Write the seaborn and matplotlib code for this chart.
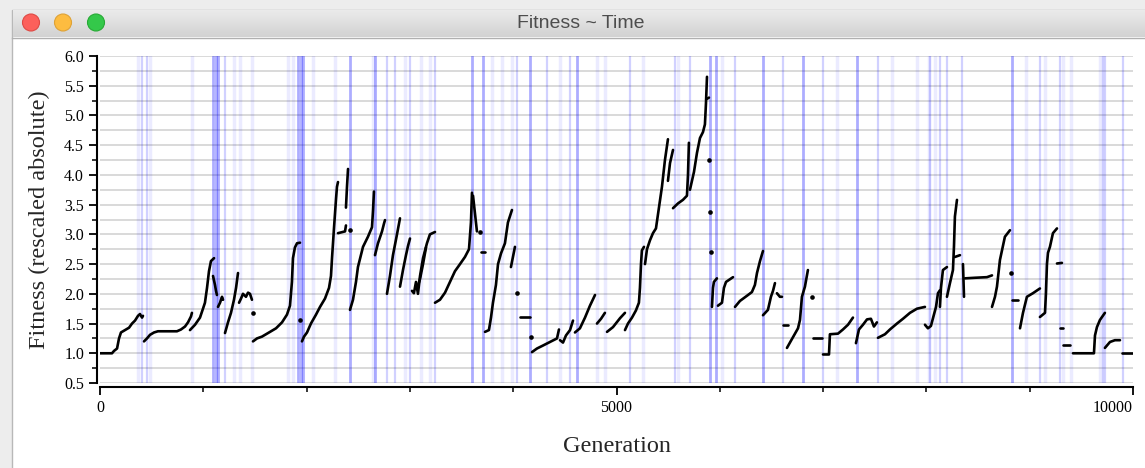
import numpy as np
import pandas as pd
import matplotlib
matplotlib.use('Agg')
import matplotlib.pyplot as plt
from matplotlib.patches import Rectangle, Circle
from matplotlib.ticker import MultipleLocator, FormatStrFormatter
import seaborn as sns

# fitness trace, one list per contiguous run of generations
segments = [
    [(0, 1.0), (116, 1.0), (136, 1.04), (165, 1.08), (184, 1.25), (203, 1.35), (242, 1.39), (281, 1.43),
     (310, 1.5), (339, 1.55), (368, 1.63), (387, 1.66), (407, 1.6), (416, 1.63)],
    [(426, 1.2), (455, 1.25), (484, 1.31), (523, 1.35), (561, 1.37), (745, 1.37), (784, 1.40), (823, 1.45),
     (852, 1.52), (881, 1.62), (890, 1.68)],
    [(871, 1.39), (920, 1.48), (968, 1.6), (997, 1.75), (1016, 1.85), (1036, 2.1), (1055, 2.38), (1074, 2.55), (1104, 2.6)],
    [(1094, 2.3), (1113, 2.15), (1123, 2.05), (1132, 1.98)],
    [(1142, 1.78), (1162, 1.85), (1181, 1.95), (1191, 1.9)],
    [(1210, 1.34), (1239, 1.52), (1268, 1.68), (1297, 1.9), (1317, 2.1), (1336, 2.35)],
    [(1346, 1.85), (1365, 1.92), (1384, 2.0), (1413, 1.95), (1433, 2.02), (1452, 2.0), (1471, 1.9)],
    [(1481, 1.2), (1520, 1.25), (1568, 1.28), (1646, 1.36), (1704, 1.42), (1762, 1.52), (1810, 1.65), (1839, 1.8),
     (1858, 2.2), (1868, 2.6), (1887, 2.78), (1907, 2.85), (1936, 2.86)],
    [(1955, 1.2), (1975, 1.28), (2004, 1.35), (2042, 1.5), (2091, 1.65), (2130, 1.78), (2178, 1.92), (2217, 2.1),
     (2236, 2.3), (2246, 2.6), (2265, 3.1), (2285, 3.6), (2294, 3.8), (2304, 3.88)],
    [(2304, 3.02), (2372, 3.05), (2381, 3.15)],
    [(2381, 3.45), (2391, 3.8), (2401, 4.1)],
    [(2420, 1.73), (2449, 1.9), (2478, 2.2), (2497, 2.45), (2546, 2.79), (2594, 2.96), (2633, 3.12), (2643, 3.4), (2652, 3.72)],
    [(2662, 2.65), (2691, 2.85), (2730, 3.05), (2749, 3.18), (2759, 3.24)],
    [(2778, 2.0), (2807, 2.3), (2836, 2.65), (2875, 3.0), (2904, 3.27)],
    [(2904, 2.12), (2933, 2.4), (2962, 2.65), (2981, 2.8), (3001, 2.93)],
    [(3020, 2.05), (3039, 2.01), (3059, 2.2), (3078, 2.0), (3098, 2.3), (3127, 2.6), (3165, 2.85), (3194, 3.0), (3243, 3.04)],
    [(3068, 2.08), (3098, 2.25), (3127, 2.5), (3156, 2.78)],
    [(3243, 1.85), (3291, 1.9), (3340, 2.02), (3388, 2.2), (3436, 2.38), (3485, 2.5), (3533, 2.62), (3572, 2.75),
     (3591, 3.2), (3601, 3.7)],
    [(3611, 3.65), (3630, 3.35), (3649, 3.05)],
    [(3688, 2.7), (3727, 2.7)],
    [(3727, 1.36), (3765, 1.39), (3785, 1.6), (3804, 1.85), (3833, 2.15), (3853, 2.5), (3882, 2.68), (3920, 2.85),
     (3949, 3.2), (3988, 3.41)],
    [(3978, 2.45), (4017, 2.79)],
    [(4066, 1.61), (4162, 1.61)],
    [(4182, 1.02), (4230, 1.08), (4288, 1.13), (4356, 1.19), (4424, 1.25), (4443, 1.4)],
    [(4453, 1.22), (4482, 1.18), (4511, 1.3), (4550, 1.39), (4579, 1.55)],
    [(4598, 1.35), (4646, 1.42), (4695, 1.6), (4743, 1.8), (4792, 1.98)],
    [(4811, 1.5), (4850, 1.58), (4888, 1.68)],
    [(4908, 1.36), (4966, 1.44), (5034, 1.59), (5082, 1.68)],
    [(5082, 1.39), (5111, 1.5), (5150, 1.6), (5188, 1.72), (5217, 1.85), (5227, 2.1), (5237, 2.5), (5246, 2.73), (5266, 2.79)],
    [(5276, 2.5), (5295, 2.75), (5324, 2.9), (5353, 3.02), (5382, 3.1), (5411, 3.45), (5440, 3.8), (5469, 4.25), (5498, 4.6)],
    [(5498, 3.9), (5518, 4.2), (5547, 4.42)],
    [(5547, 3.44), (5595, 3.52), (5643, 3.58), (5682, 3.65), (5692, 4.0), (5701, 4.54)],
    [(5711, 3.75), (5750, 4.05), (5779, 4.37), (5808, 4.62), (5837, 4.72), (5856, 4.85), (5866, 5.2), (5876, 5.65)],
    [(5876, 5.28), (5895, 5.3)],
    [(5924, 1.78), (5934, 2.1), (5943, 2.2), (5972, 2.26)],
    [(5982, 1.8), (6021, 1.85), (6040, 2.1), (6060, 2.2), (6128, 2.28)],
    [(6147, 1.78), (6195, 1.88), (6273, 1.98), (6311, 2.03), (6340, 2.15), (6360, 2.35), (6389, 2.55), (6418, 2.72)],
    [(6418, 1.64), (6466, 1.73), (6495, 1.95), (6515, 2.05), (6534, 2.18)],
    [(6553, 2.01), (6582, 1.95), (6602, 1.95)],
    [(6611, 1.48), (6660, 1.48)],
    [(6650, 1.09), (6679, 1.18), (6718, 1.3), (6757, 1.42), (6776, 1.56), (6795, 1.95), (6824, 2.12), (6853, 2.40)],
    [(6902, 1.26), (6989, 1.26)],
    [(6999, 0.98), (7057, 0.98), (7066, 1.32), (7144, 1.33), (7192, 1.4), (7241, 1.48), (7289, 1.6)],
    [(7318, 1.17), (7347, 1.4), (7386, 1.48), (7425, 1.57), (7463, 1.58), (7492, 1.45), (7521, 1.52)],
    [(7531, 1.26), (7599, 1.32), (7647, 1.4), (7715, 1.5), (7773, 1.58), (7841, 1.68), (7909, 1.75), (7986, 1.78)],
    [(7986, 1.48), (8015, 1.42), (8044, 1.46), (8073, 1.65), (8093, 1.78), (8112, 2.01), (8131, 2.06)],
    [(8131, 1.78), (8141, 2.1), (8160, 2.4), (8199, 2.45)],
    [(8199, 1.95), (8228, 2.18), (8257, 2.4), (8267, 2.8), (8276, 3.3), (8296, 3.58)],
    [(8276, 2.62), (8325, 2.65)],
    [(8354, 2.5), (8364, 1.95)],
    [(8373, 2.26), (8470, 2.27), (8586, 2.28), (8635, 2.31)],
    [(8635, 1.78), (8664, 1.95), (8683, 2.12), (8712, 2.57), (8760, 2.96), (8809, 3.07)],
    [(8828, 1.9), (8886, 1.9)],
    [(8906, 1.42), (8935, 1.68), (8973, 1.95), (9031, 2.01), (9099, 2.09)],
    [(9099, 1.61), (9148, 1.68), (9157, 2.0), (9167, 2.5), (9177, 2.69), (9196, 2.79), (9225, 3.02), (9264, 3.10)],
    [(9264, 2.51), (9312, 2.52)],
    [(9293, 1.42), (9322, 1.42)],
    [(9322, 1.14), (9390, 1.14)],
    [(9419, 1.0), (9622, 1.0), (9632, 1.3), (9651, 1.44), (9680, 1.56), (9728, 1.68)],
    [(9728, 1.09), (9777, 1.19), (9825, 1.22), (9874, 1.22)],
    [(9893, 1.0), (10000, 1.0)],
]

# isolated single-generation points
dot_gen = [1481, 1936, 2420, 3678, 4037, 4172, 5895, 5905, 5914, 6892, 8818]
dot_fit = [1.68, 1.56, 3.07, 3.04, 2.01, 1.27, 4.25, 3.38, 2.70, 1.95, 2.35]

# sweep markers (generations), strongest to faintest
fixed_gens = [1094, 1123, 1142, 1917, 1946, 1965, 2420, 2662, 3601, 3707, 4162, 4617,
              5905, 5963, 6418, 6805, 7328, 8828]
partial_gens = [407, 455, 1210, 2778, 2855, 3001, 3243, 4037, 4327, 4550, 5130, 5566, 5711,
                6147, 6611, 6999, 7531, 8034, 8131, 8199, 8344, 9099, 9293, 9709, 9728, 9903]
lost_gens = [368, 484, 890, 1297, 1355, 1471, 1820, 1868, 2062, 2275, 2643, 2952, 3107, 3194,
             3794, 3891, 3988, 4453, 4811, 4888, 5256, 5595, 6021, 7135, 7667, 7909, 8025, 8083,
             8964, 9148, 9322, 9400, 9680]

x_ticks = [0, 5000, 10000]
x_tick_labels = ['0', '5000', '10000']

rows = []
for i, seg in enumerate(segments):
    for g, f in seg:
        rows.append({'gen': g, 'fit': f, 'seg': i})
df = pd.DataFrame(rows)

W, H = 1145, 468
fig = plt.figure(figsize=(W / 100, H / 100), dpi=100, facecolor='#ededed')

# window chrome
bg = fig.add_axes([0, 0, 1, 1])
bg.set_xlim(0, W)
bg.set_ylim(H, 0)
bg.axis('off')
bg.add_patch(Rectangle((12, 10), W, H, facecolor='white', edgecolor='#b8b8b8', lw=1))
grad = np.linspace(0, 1, 50).reshape(-1, 1)
bg.imshow(grad, extent=(12.5, W, 37, 10.5), cmap=matplotlib.colors.LinearSegmentedColormap.from_list(
    'tb', ['#ebebeb', '#d2d2d2']), aspect='auto', zorder=1)
bg.plot([12, W], [37.5, 37.5], color='#b0b0b0', lw=1, zorder=2)
for cx, fc, ec in [(31, '#fc605b', '#de4a45'), (63, '#fdbc40', '#dea236'), (96, '#34c84a', '#27aa35')]:
    bg.add_patch(Circle((cx, 22.5), 8.5, facecolor=fc, edgecolor=ec, lw=0.8, zorder=3))
bg.text(581, 24, 'Fitness ~ Time', ha='center', va='center', fontsize=14,
        family='Liberation Sans', color='#4d4d4d', zorder=3)

sns.set_style('white')
plt.rcParams['font.family'] = ['Liberation Serif', 'DejaVu Serif']

ax = fig.add_axes([100 / W, 85 / H, 1033 / W, 327 / H])
ax.set_facecolor('none')

for g in lost_gens:
    ax.axvline(g, color='#0000ff', alpha=0.08, lw=2.5, zorder=1)
for g in partial_gens:
    ax.axvline(g, color='#0000ff', alpha=0.18, lw=1.6, zorder=1)
for g in fixed_gens:
    ax.axvline(g, color='#0000ff', alpha=0.32, lw=2.0, zorder=1)

sns.lineplot(data=df, x='gen', y='fit', units='seg', estimator=None, sort=False,
             color='black', linewidth=1.9, legend=False, ax=ax, zorder=3)
sns.scatterplot(x=dot_gen, y=dot_fit, color='black', s=11, linewidth=0, ax=ax, zorder=3)

ax.set_xlim(0, 10000)
ax.set_ylim(0.5, 6.0)
ax.yaxis.set_major_locator(MultipleLocator(0.5))
ax.yaxis.set_minor_locator(MultipleLocator(0.25))
ax.yaxis.set_major_formatter(FormatStrFormatter('%.1f'))
ax.set_xticks(x_ticks, x_tick_labels)
ax.xaxis.set_minor_locator(MultipleLocator(1000))
ax.grid(which='both', axis='y', color='#d0d0d0', lw=1.1, zorder=0)
ax.grid(False, axis='x')
ax.set_axisbelow(True)

for s in ['top', 'right']:
    ax.spines[s].set_visible(False)
ax.spines['left'].set_position(('outward', 2))
ax.spines['bottom'].set_position(('outward', 3))
for s in ['left', 'bottom']:
    ax.spines[s].set_color('black')
    ax.spines[s].set_linewidth(1.5)

ax.tick_params(axis='both', which='major', direction='out', length=6, width=1.3,
               labelsize=11.5, colors='black', bottom=True, left=True)
ax.tick_params(axis='both', which='minor', direction='out', length=3.5, width=1.3,
               bottom=True, left=True)

ax.set_xlabel('Generation', fontsize=17.5, labelpad=14)
ax.set_ylabel('Fitness (rescaled absolute)', fontsize=17.5, labelpad=10)

# last x label sits flush against the right end, as in the original
fig.canvas.draw()
ax.xaxis.get_major_ticks()[-1].label1.set_horizontalalignment('right')

fig.savefig('out.png', dpi=100, facecolor=fig.get_facecolor())
